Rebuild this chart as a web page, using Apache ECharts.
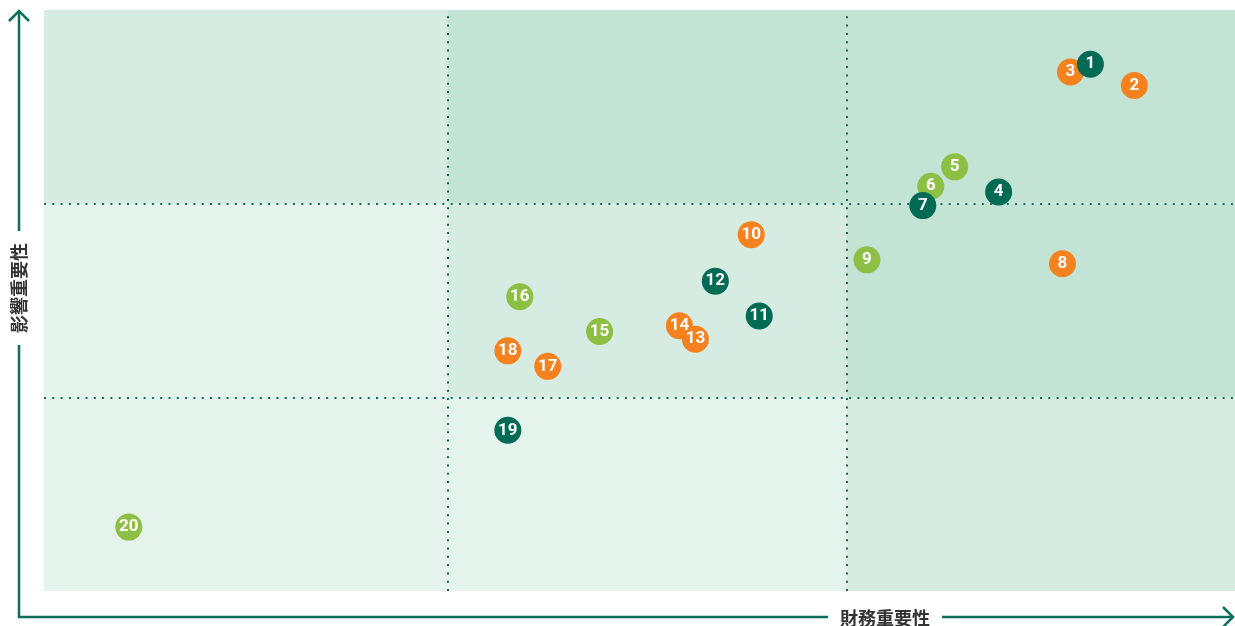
<!DOCTYPE html>
<html>
<head>
<meta charset="utf-8">
<script src="https://cdn.jsdelivr.net/npm/echarts@6/dist/echarts.min.js"></script>
<style>
  html, body { margin: 0; padding: 0; background: #fff; }
  #chart { width: 1235px; height: 626px; }
</style>
</head>
<body>
<div id="chart"></div>
<script>
    // 各項目 (番号, 財務重要性, 影響重要性)
    var darkIds   = ['19', '12', '11', '4', '7', '1'];
    var darkX     = [1.15, 1.67, 1.78, 2.38, 2.19, 2.61];
    var darkY     = [0.83, 1.60, 1.42, 2.06, 1.99, 2.72];

    var orangeIds = ['18', '17', '14', '13', '10', '8', '3', '2'];
    var orangeX   = [1.15, 1.25, 1.58, 1.62, 1.76, 2.54, 2.56, 2.72];
    var orangeY   = [1.24, 1.16, 1.37, 1.30, 1.84, 1.69, 2.68, 2.61];

    var lightIds  = ['20', '16', '15', '9', '5', '6'];
    var lightX    = [0.20, 1.18, 1.38, 2.05, 2.27, 2.21];
    var lightY    = [0.33, 1.52, 1.34, 1.71, 2.19, 2.09];

    // 区分線
    var splitX = [1, 2];
    var splitY = [1, 2];

    // 背景セル
    var xMin = -0.0125, xMax = 2.9724, yMin = 0, yMax = 3;
    var cellColors = [
        ['#e4f3ec', '#e4f3ec', '#d6ebe1'],   // 下段
        ['#e4f3ec', '#d6ebe1', '#c3e4d5'],   // 中段
        ['#d6ebe1', '#c3e4d5', '#c3e4d5']    // 上段
    ];

    var xEdges = [xMin, 1, 2, xMax];
    var yEdges = [yMin, 1, 2, yMax];
    var cells  = [];
    for (var r = 0; r < 3; r++) {
        for (var c = 0; c < 3; c++) {
            cells.push([
                {xAxis: xEdges[c], yAxis: yEdges[r], itemStyle: {color: cellColors[r][c]}},
                {xAxis: xEdges[c + 1], yAxis: yEdges[r + 1]}
            ]);
        }
    }

    var lines = [];
    splitX.forEach(function (v) { lines.push({xAxis: v}); });
    splitY.forEach(function (v) { lines.push({yAxis: v}); });

    function pts(ids, xs, ys) {
        return ids.map(function (id, i) {
            return {name: id, value: [xs[i], ys[i]]};
        });
    }

    function dotSeries(name, color, data) {
        return {
            name      : name,
            type      : 'scatter',
            symbol    : 'circle',
            symbolSize: 27,
            itemStyle : {color: color, opacity: 1},
            label     : {
                show      : true,
                position  : 'inside',
                formatter : '{b}',
                color     : '#fff',
                fontFamily: 'Roboto',
                fontWeight: 'bold',
                fontSize  : 17
            },
            data      : data,
            z         : 5
        };
    }

    var axisColor = '#0b6f5b';
    var myChart   = echarts.init(document.getElementById('chart'));
    var option    = {
        animation: false,
        grid     : {left: 44, right: 0, top: 10, bottom: 35},
        xAxis    : {
            type: 'value', min: xMin, max: xMax,
            axisLine: {show: false}, axisTick: {show: false},
            axisLabel: {show: false}, splitLine: {show: false}
        },
        yAxis    : {
            type: 'value', min: yMin, max: yMax,
            axisLine: {show: false}, axisTick: {show: false},
            axisLabel: {show: false}, splitLine: {show: false}
        },
        series   : [
            {
                type    : 'scatter',
                data    : [],
                silent  : true,
                markArea: {silent: true, data: cells},
                markLine: {
                    silent   : true,
                    symbol   : 'none',
                    label    : {show: false},
                    lineStyle: {color: axisColor, width: 2, type: [2, 6.3]},
                    data     : lines
                }
            },
            dotSeries('light', '#8dbf45', pts(lightIds, lightX, lightY)),
            dotSeries('orange', '#f5821f', pts(orangeIds, orangeX, orangeY)),
            dotSeries('dark', '#006b55', pts(darkIds, darkX, darkY))
        ],
        graphic  : [
            {
                type : 'polyline',
                shape: {points: [[19, 11], [19, 617], [1233, 617]]},
                style: {stroke: axisColor, lineWidth: 2.5, fill: null}
            },
            {
                type : 'polyline',
                shape: {points: [[9, 21], [19, 11], [29, 21]]},
                style: {stroke: axisColor, lineWidth: 2.5, fill: null}
            },
            {
                type : 'polyline',
                shape: {points: [[1223, 607], [1233, 617], [1223, 627]]},
                style: {stroke: axisColor, lineWidth: 2.5, fill: null}
            },
            {
                type : 'text',
                x    : 885, y: 618,
                style: {
                    text: '財務重要性', fill: '#333', align: 'center', verticalAlign: 'middle',
                    font: 'bold 18px "Noto Sans CJK JP"',
                    backgroundColor: '#fff', padding: [2, 12]
                },
                z    : 10
            },
            {
                type    : 'text',
                x       : 19, y: 288,
                rotation: Math.PI / 2,
                style   : {
                    text: '影響重要性', fill: '#333', align: 'center', verticalAlign: 'middle',
                    font: 'bold 18px "Noto Sans CJK JP"',
                    backgroundColor: '#fff', padding: [2, 12]
                },
                z       : 10
            }
        ]
    };

    myChart.setOption(option);
</script>
</body>
</html>
